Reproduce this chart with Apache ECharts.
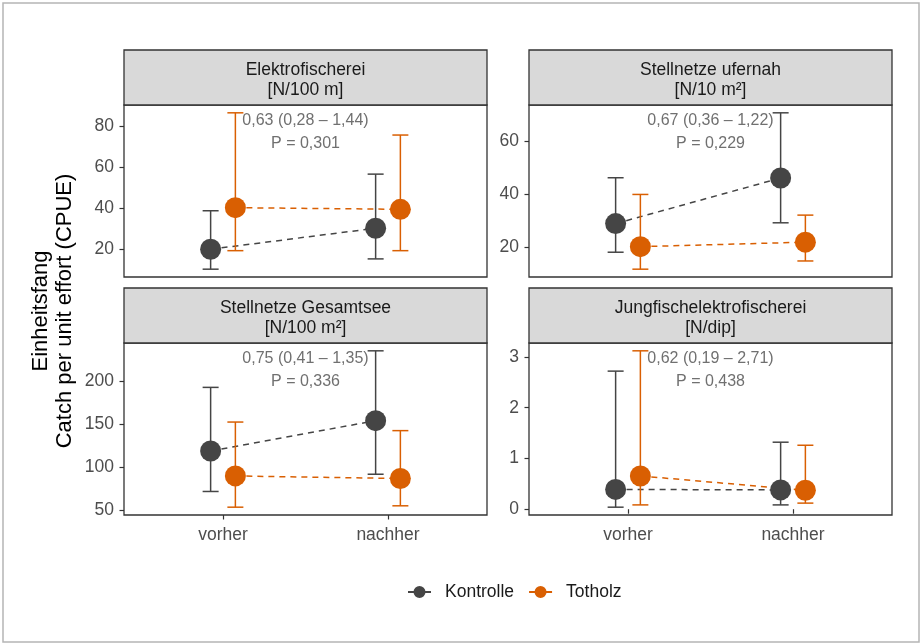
<!DOCTYPE html>
<html>
<head>
<meta charset="utf-8">
<script src="https://cdn.jsdelivr.net/npm/echarts@6/dist/echarts.min.js"></script>
<style>html,body{margin:0;padding:0;background:#fff;}#c{width:922px;height:644px;}</style>
</head>
<body>
<div id="c"></div>
<script>
// ---- data ----
const categories = ['vorher', 'nachher'];
const groups = ['Kontrolle', 'Totholz'];
const panelTitles = [
  'Elektrofischerei\n[N/100 m]',
  'Stellnetze ufernah\n[N/10 m²]',
  'Stellnetze Gesamtsee\n[N/100 m²]',
  'Jungfischelektrofischerei\n[N/dip]'
];
const annotations = [
  '0,63 (0,28 – 1,44)\nP = 0,301',
  '0,67 (0,36 – 1,22)\nP = 0,229',
  '0,75 (0,41 – 1,35)\nP = 0,336',
  '0,62 (0,19 – 2,71)\nP = 0,438'
];
// per panel: [vorher, nachher]
const kontrolleMean  = [[20.0, 30.2], [29.0, 46.2], [118.6, 153.9], [0.39, 0.38]];
const kontrolleLower = [[10.3, 15.3], [18.2, 29.3], [71.4, 91.5],   [0.04, 0.085]];
const kontrolleUpper = [[38.7, 56.5], [46.3, 70.8], [192.7, 235.3], [2.72, 1.32]];
const totholzMean    = [[40.2, 39.4], [20.3, 22.0], [89.5, 86.5],   [0.655, 0.373]];
const totholzLower   = [[19.3, 19.3], [11.8, 14.9], [53.1, 54.7],   [0.085, 0.12]];
const totholzUpper   = [[86.3, 75.5], [40.0, 32.2], [152.3, 142.3], [3.12, 1.26]];
const yTicks = [[20, 40, 60, 80], [20, 40, 60], [50, 100, 150, 200], [0, 1, 2, 3]];

// ---- styles / layout ----
const FONT = '"Liberation Sans", Arial, Helvetica, sans-serif';
const COLORS = { Kontrolle: '#454545', Totholz: '#d95f02' };
const DODGE = 0.075;
const panelLeft = [124, 529], panelTop = [105, 343], PW = 363, PH = 172, STRIP = 55;

const chart = echarts.init(document.getElementById('c'), null, { renderer: 'canvas' });

const grids = [], xAxes = [], yAxes = [], series = [], graphics = [];

graphics.push({ type: 'rect', shape: { x: 3, y: 3, width: 916, height: 639 },
  style: { fill: 'none', stroke: '#b5b5b5', lineWidth: 1.5 }, silent: true });

const stats = {
  Kontrolle: { mean: kontrolleMean, lo: kontrolleLower, hi: kontrolleUpper },
  Totholz: { mean: totholzMean, lo: totholzLower, hi: totholzUpper }
};

for (let p = 0; p < 4; p++) {
  const col = p % 2, row = Math.floor(p / 2);
  const left = panelLeft[col], top = panelTop[row];
  grids.push({ left: left, top: top, width: PW, height: PH, show: true,
    borderColor: '#333', borderWidth: 1.3, backgroundColor: '#fff', containLabel: false });

  // axis range: data range with 5% expansion (ggplot default)
  const all = [].concat(kontrolleLower[p], kontrolleUpper[p], totholzLower[p], totholzUpper[p]);
  const mn = Math.min.apply(null, all), mx = Math.max.apply(null, all);
  const pad = (mx - mn) * 0.05;

  xAxes.push({
    gridIndex: p, type: 'value', min: 0.4, max: 2.6,
    axisLine: { show: false },
    splitLine: { show: false },
    axisTick: { show: row === 1, length: 4.5, lineStyle: { color: '#333', width: 1.2 }, customValues: [1, 2] },
    axisLabel: { show: row === 1, customValues: [1, 2], margin: 11,
      formatter: v => categories[Math.round(v) - 1] || '',
      color: '#4d4d4d', fontSize: 17.5, fontFamily: FONT }
  });
  yAxes.push({
    gridIndex: p, type: 'value', min: mn - pad, max: mx + pad,
    axisLine: { show: false },
    splitLine: { show: false },
    axisTick: { show: true, length: 4.5, lineStyle: { color: '#333', width: 1.2 }, customValues: yTicks[p] },
    axisLabel: { customValues: yTicks[p], margin: 10, color: '#4d4d4d', fontSize: 17.5, fontFamily: FONT }
  });

  groups.forEach((g, gi) => {
    const off = gi === 0 ? -DODGE : DODGE;
    const pts = categories.map((c, ci) => [ci + 1 + off, stats[g].mean[p][ci]]);
    const bars = categories.map((c, ci) => [ci + 1 + off, stats[g].lo[p][ci], stats[g].hi[p][ci]]);
    series.push({
      name: g, type: 'line', xAxisIndex: p, yAxisIndex: p, data: pts,
      symbol: 'none', silent: true, z: 2,
      lineStyle: { color: COLORS[g], width: 1.5, type: [6, 5] },
      itemStyle: { color: COLORS[g] }
    });
    series.push({
      name: g, type: 'custom', xAxisIndex: p, yAxisIndex: p, data: bars, z: 3,
      encode: { x: 0, y: [1, 2] },
      itemStyle: { color: COLORS[g] },
      renderItem: (params, api) => {
        const x = api.value(0);
        const a = api.coord([x, api.value(1)]);
        const b = api.coord([x, api.value(2)]);
        const hw = 8;
        const st = { stroke: COLORS[g], lineWidth: 1.5 };
        return { type: 'group', children: [
          { type: 'line', shape: { x1: a[0], y1: a[1], x2: b[0], y2: b[1] }, style: st },
          { type: 'line', shape: { x1: a[0] - hw, y1: a[1], x2: a[0] + hw, y2: a[1] }, style: st },
          { type: 'line', shape: { x1: b[0] - hw, y1: b[1], x2: b[0] + hw, y2: b[1] }, style: st }
        ]};
      }
    });
    series.push({
      name: g, type: 'scatter', xAxisIndex: p, yAxisIndex: p, data: pts, z: 4,
      symbol: 'circle', symbolSize: 21, itemStyle: { color: COLORS[g], opacity: 1 }
    });
  });

  // strip
  graphics.push({ type: 'rect', shape: { x: left, y: top - STRIP, width: PW, height: STRIP },
    style: { fill: '#d9d9d9', stroke: '#333', lineWidth: 1.3 }, silent: true, z: 10 });
  graphics.push({ type: 'text', x: left + PW / 2, y: top - STRIP / 2 + 2.5, z: 11, silent: true,
    style: { text: panelTitles[p], align: 'center', verticalAlign: 'middle',
      font: '17.5px ' + FONT, fill: '#1a1a1a', lineHeight: 20.5 } });
  // annotation
  graphics.push({ type: 'text', x: left + PW / 2, y: top + 27.5, z: 11, silent: true,
    style: { text: annotations[p], align: 'center', verticalAlign: 'middle',
      font: '16px ' + FONT, fill: '#707070', lineHeight: 23 } });
}

// y title
graphics.push({ type: 'text', x: 53, y: 311, rotation: Math.PI / 2, silent: true,
  style: { text: 'Einheitsfang\nCatch per unit effort (CPUE)', align: 'center', verticalAlign: 'middle',
    font: '22px ' + FONT, fill: '#000', lineHeight: 24 } });

const iconPath = 'path://M0,5 L23,5 L23,7 L0,7 Z M11.5,0 A6,6 0 1,1 11.5,12 A6,6 0 1,1 11.5,0 Z';

chart.setOption({
  animation: false,
  grid: grids,
  xAxis: xAxes,
  yAxis: yAxes,
  series: series,
  graphic: graphics,
  legend: {
    data: groups.map(g => ({ name: g, icon: iconPath, itemStyle: { color: COLORS[g] } })),
    left: 408, top: 583, padding: 0, itemWidth: 23, itemHeight: 12, itemGap: 15,
    selectedMode: false,
    textStyle: { fontSize: 17.5, fontFamily: FONT, color: '#1a1a1a', padding: [0, 0, 0, 9] }
  }
});
</script>
</body>
</html>
